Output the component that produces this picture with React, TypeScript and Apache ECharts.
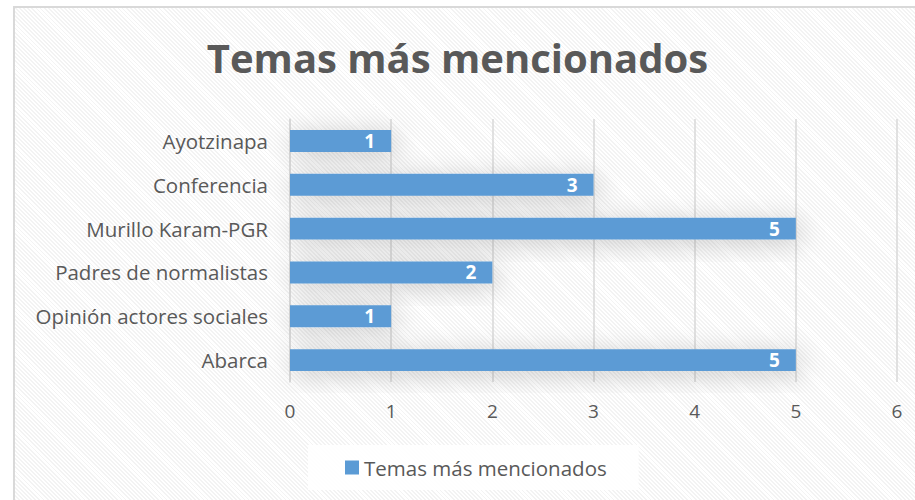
import React, { useEffect, useRef } from "react";
import * as echarts from "echarts";

const categories = [
  "Ayotzinapa",
  "Conferencia",
  "Murillo Karam-PGR",
  "Padres de normalistas",
  "Opinión actores sociales",
  "Abarca",
];
const values = [1, 3, 5, 2, 1, 5];
const seriesName = "Temas más mencionados";
const titleText = "Temas más mencionados";

const FONT = "'Open Sans', sans-serif";

export default function App() {
  const ref = useRef<HTMLDivElement>(null);
  useEffect(() => {
    if (!ref.current) return;
    const chart = echarts.init(ref.current, undefined, { renderer: "svg" });
    chart.setOption({
      animation: false,
      backgroundColor: "transparent",
      title: {
        text: titleText,
        left: "center",
        top: 32,
        textStyle: { fontFamily: FONT, fontSize: 40, fontWeight: "bold", color: "#595959" },
      },
      grid: { left: 290, right: 18, top: 119, bottom: 118 },
      xAxis: {
        type: "value",
        min: 0,
        max: 6,
        interval: 1,
        axisLine: { show: false },
        axisTick: { show: false },
        splitLine: { lineStyle: { color: "#d9d9d9", width: 1.5 } },
        axisLabel: { fontFamily: FONT, fontSize: 19, color: "#595959", margin: 19 },
      },
      yAxis: {
        type: "category",
        inverse: true,
        data: categories,
        axisLine: { show: true, lineStyle: { color: "#d9d9d9", width: 1.5 } },
        axisTick: { show: false },
        axisLabel: { fontFamily: FONT, fontSize: 20.5, color: "#595959", margin: 22 },
      },
      legend: {
        bottom: 10,
        left: 308,
        itemWidth: 14,
        itemHeight: 14,
        itemGap: 6,
        icon: "rect",
        padding: [12, 32, 12, 37],
        backgroundColor: "rgba(255,255,255,0.85)",
        textStyle: { fontFamily: FONT, fontSize: 20.5, color: "#595959" },
        data: [seriesName],
      },
      series: [
        {
          name: seriesName,
          type: "bar",
          data: values,
          barCategoryGap: "50%",
          itemStyle: {
            color: "#5b9bd5",
            shadowBlur: 26,
            shadowColor: "rgba(0,0,0,0.2)",
            shadowOffsetX: 4,
            shadowOffsetY: 4,
          },
          label: {
            show: true,
            position: "insideRight",
            distance: 16,
            color: "#ffffff",
            fontFamily: FONT,
            fontSize: 19,
            fontWeight: "bold",
          },
        },
      ],
    });
    return () => chart.dispose();
  }, []);
  return (
    <div style={{ position: "fixed", left: 0, top: 0, width: 915, height: 500, background: "#ffffff", overflow: "hidden" }}>
      <div
        style={{
          position: "absolute",
          left: 13,
          top: 6,
          width: 940,
          height: 540,
          border: "2px solid #d9d9d9",
          background: "repeating-linear-gradient(45deg, #ffffff 0px, #ffffff 1.6px, #f3f3f3 1.6px, #f3f3f3 2.9px)",
        }}
      />
      <div ref={ref} style={{ position: "absolute", left: 0, top: 0, width: 915, height: 500 }} />
    </div>
  );
}
